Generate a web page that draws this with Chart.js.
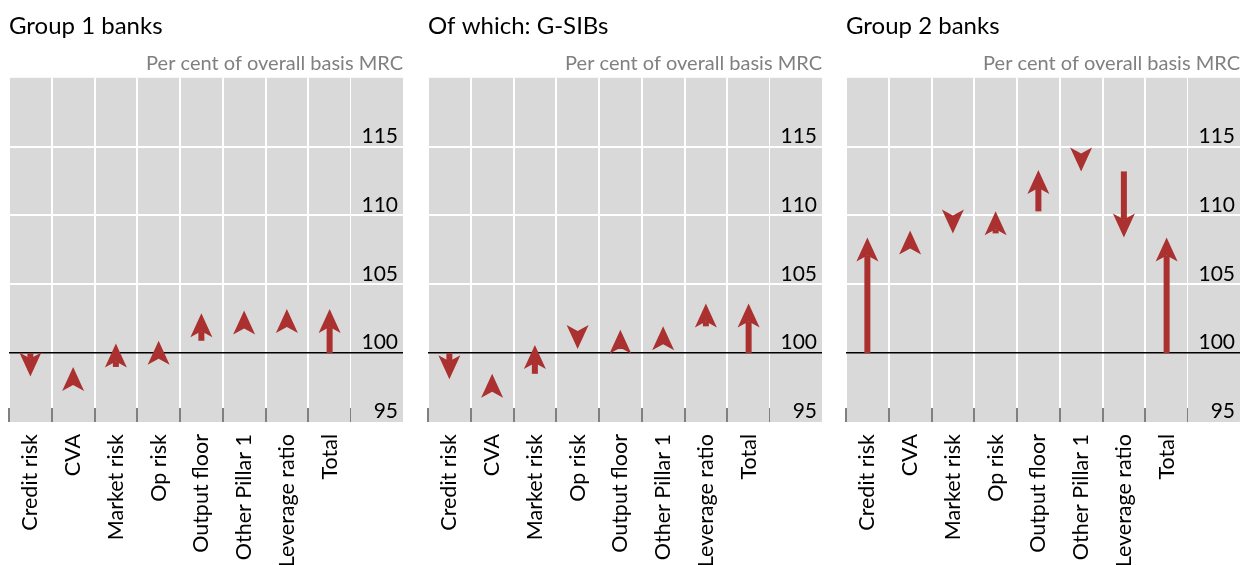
<!DOCTYPE html>
<html>
<head>
<meta charset="utf-8">
<script src="https://cdn.jsdelivr.net/npm/chart.js@4/dist/chart.umd.min.js"></script>
<style>
  body { margin: 0; background: #fff; width: 1245px; height: 565px; position: relative; overflow: hidden; }
  .panel { position: absolute; top: 0; width: 415px; height: 565px; }
</style>
</head>
<body>
<div class="panel" style="left:0"><canvas id="group1Chart"></canvas></div>
<div class="panel" style="left:419px"><canvas id="gsibChart"></canvas></div>
<div class="panel" style="left:837px"><canvas id="group2Chart"></canvas></div>
<script>
// Categories along the x axis
const categories = ['Credit risk', 'CVA', 'Market risk', 'Op risk', 'Output floor', 'Other Pillar 1', 'Leverage ratio', 'Total'];

// Level reached after each step (per cent of overall basis MRC); Total is drawn from the base
const baseLevel = 100;
const group1Levels = [98.3, 99.0, 100.7, 100.9, 102.9, 103.1, 103.2, 103.2];
const gsibLevels = [98.1, 98.5, 100.6, 100.3, 101.7, 101.95, 103.6, 103.6];
const group2Levels = [108.4, 108.9, 108.7, 110.3, 113.3, 113.2, 108.4, 108.4];

// y axis
const yMin = 95;
const yMax = 120;
const yTickLabels = [95, 100, 105, 110, 115];

const FONT = 'Lato, "Open Sans", sans-serif';
const ARROW_RED = '#ab3030';
const PANEL_GREY = '#d9d9d9';

// each step runs from the previous level to the new one; the last one (Total) from the base
function toSteps(levels) {
    return levels.map((end, i) => {
        const start = (i === 0 || i === levels.length - 1) ? baseLevel : levels[i - 1];
        return [start, end];
    });
}

const backdrop = {
    id: 'backdrop',
    beforeDraw(chart) {
        const { ctx, chartArea: a } = chart;
        ctx.save();
        ctx.fillStyle = PANEL_GREY;
        ctx.fillRect(a.left, a.top, a.right - a.left, a.bottom - a.top);
        ctx.restore();
    }
};

// draws an arrow for every (invisible) floating bar, from its start to its end value
const arrows = {
    id: 'arrows',
    afterDatasetsDraw(chart) {
        const ctx = chart.ctx;
        const yScale = chart.scales.y;
        const meta = chart.getDatasetMeta(0);
        const steps = chart.data.datasets[0].data;
        ctx.save();
        ctx.fillStyle = ARROW_RED;
        meta.data.forEach((bar, i) => {
            const [start, end] = steps[i];
            const x = bar.x;
            const y0 = yScale.getPixelForValue(start);
            const y1 = yScale.getPixelForValue(end);
            const dir = y0 >= y1 ? 1 : -1;
            const neck = y1 + dir * 18;
            if ((y0 - neck) * dir > 0) {
                ctx.fillRect(x - 3, Math.min(y0, neck), 6, Math.abs(y0 - neck));
            }
            ctx.beginPath();
            ctx.moveTo(x, y1);
            ctx.lineTo(x + 11, y1 + dir * 24);
            ctx.lineTo(x, neck);
            ctx.lineTo(x - 11, y1 + dir * 24);
            ctx.closePath();
            ctx.fill();
        });
        ctx.restore();
    }
};

function gridColour(value) {
    if (value === baseLevel) return '#000';
    if (value === yMin || value === yMax) return 'rgba(0,0,0,0)';
    return '#ffffff';
}

function createArrowChart(canvas, title, levels) {
    new Chart(canvas, {
        type: 'bar',
        data: {
            labels: categories,
            datasets: [{
                data: toSteps(levels),
                backgroundColor: 'rgba(0,0,0,0)',
                borderWidth: 0
            }]
        },
        options: {
            responsive: true,
            maintainAspectRatio: false,
            animation: false,
            layout: { padding: { left: 9, right: 12, top: 0, bottom: 0 } },
            plugins: {
                legend: { display: false },
                tooltip: { enabled: false },
                title: {
                    display: true,
                    text: title,
                    align: 'start',
                    color: '#000',
                    font: { family: FONT, size: 24, weight: 'normal' },
                    padding: { top: 12, bottom: 0 }
                },
                subtitle: {
                    display: true,
                    text: 'Per cent of overall basis MRC',
                    align: 'end',
                    color: '#808080',
                    font: { family: FONT, size: 20, weight: 'normal' },
                    padding: { top: 11, bottom: 2 }
                }
            },
            scales: {
                x: {
                    offset: true,
                    border: { display: false },
                    afterFit: s => { s.height = 143; },
                    grid: { offset: true, color: '#ffffff', lineWidth: 2, tickLength: -14, tickColor: '#000', tickWidth: 1 },
                    ticks: {
                        minRotation: 90, maxRotation: 90, autoSkip: false, padding: 26,
                        color: '#000', font: { family: FONT, size: 21.5 }
                    }
                },
                y: {
                    position: 'right',
                    min: yMin,
                    max: yMax,
                    backgroundColor: PANEL_GREY,
                    border: { display: false },
                    afterFit: s => { s.width = 52; },
                    grid: {
                        color: c => gridColour(c.tick.value),
                        lineWidth: c => c.tick.value === baseLevel ? 1.5 : 2,
                        tickLength: 52,
                        tickColor: c => gridColour(c.tick.value),
                        tickWidth: c => c.tick.value === baseLevel ? 1.5 : 2
                    },
                    ticks: {
                        stepSize: 5,
                        mirror: true,
                        padding: 47,
                        align: 'end',
                        color: '#000',
                        font: { family: FONT, size: 21 },
                        callback: v => yTickLabels.includes(v) ? v : ''
                    }
                }
            }
        },
        plugins: [backdrop, arrows]
    });
}

document.addEventListener('DOMContentLoaded', () => {
    createArrowChart(document.getElementById('group1Chart'), 'Group 1 banks', group1Levels);
    createArrowChart(document.getElementById('gsibChart'), 'Of which: G-SIBs', gsibLevels);
    createArrowChart(document.getElementById('group2Chart'), 'Group 2 banks', group2Levels);
});
</script>
</body>
</html>
